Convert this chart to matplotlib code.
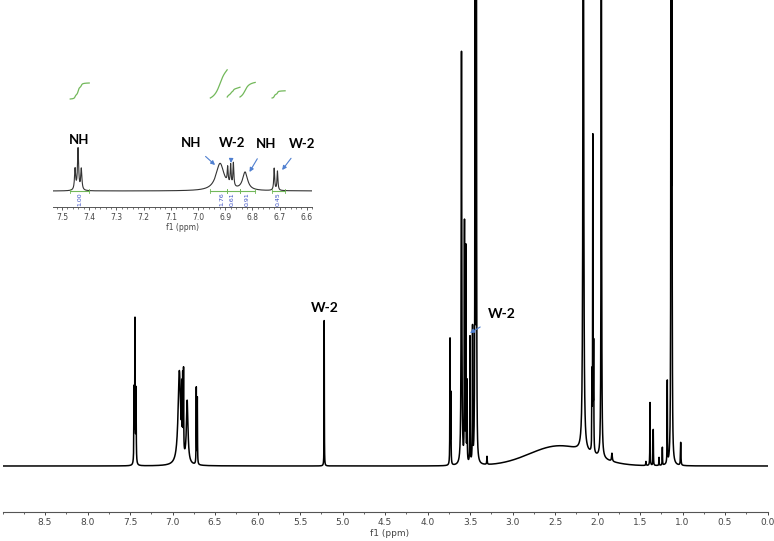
import numpy as np
import matplotlib
matplotlib.use("Agg")
import matplotlib.pyplot as plt
from matplotlib.ticker import MultipleLocator, FormatStrFormatter, FixedLocator

# peak table: shift (ppm), height, half width (ppm)
peak_ppm = [7.452, 7.441, 7.429, 6.919, 6.891, 6.880, 6.870, 6.827, 6.720, 6.708,
            5.215, 3.735, 3.725, 3.600, 3.565, 3.550, 3.535, 3.500, 3.470, 3.440,
            3.425, 3.300, 2.167, 2.065, 2.055, 2.045, 1.955, 1.830, 1.430, 1.382,
            1.344, 1.276, 1.237, 1.179, 1.135, 1.125, 1.021]
peak_height = [73, 143, 73, 94, 55, 71, 81, 62, 76, 66,
               148, 126, 70, 413, 239, 213, 80, 126, 133, 700,
               700, 8, 700, 73, 316, 103, 700, 8, 4, 63,
               36, 8, 18, 83, 700, 700, 23]
peak_hwhm = [0.0025, 0.0025, 0.0025, 0.018, 0.002, 0.002, 0.002, 0.011, 0.002, 0.002,
             0.0015, 0.002, 0.002, 0.004, 0.002, 0.002, 0.002, 0.002, 0.002, 0.0025,
             0.0025, 0.003, 0.005, 0.002, 0.002, 0.002, 0.003, 0.005, 0.003, 0.002,
             0.002, 0.002, 0.002, 0.002, 0.0025, 0.0025, 0.003]

# broad water / exchange hump
hump_ppm, hump_height, hump_sigma = 2.45, 20, 0.35

# inset integrals: region (from, to) and value
int_from = [7.47, 6.955, 6.893, 6.846, 6.728]
int_to = [7.40, 6.893, 6.846, 6.790, 6.680]
int_value = [1.00, 1.76, 0.61, 0.91, 0.45]

inset_scale = 0.29


def spectrum(x):
    y = hump_height * np.exp(-0.5 * ((x - hump_ppm) / hump_sigma) ** 2)
    for p, h, w in zip(peak_ppm, peak_height, peak_hwhm):
        y = y + h / (1 + ((x - p) / w) ** 2)
    return y


W, H = 774, 541
fig = plt.figure(figsize=(W / 100, H / 100), dpi=100)

blue = "#4f7fd0"
tick_grey = "#444444"

# ---- main spectrum
ax = fig.add_axes([2.5 / W, (H - 512) / H, 765 / W, 512 / H])
x = np.arange(0, 9.0002, 0.0004)
ax.plot(x, spectrum(x), color="black", lw=1.1)
ax.set_xlim(9.0, 0.0)
ax.set_ylim(-46, 466)
for s in ["left", "right", "top"]:
    ax.spines[s].set_visible(False)
ax.spines["bottom"].set_color("#555555")
ax.spines["bottom"].set_linewidth(0.8)
ax.set_yticks([])
ax.xaxis.set_major_locator(FixedLocator(np.arange(0, 8.6, 0.5)))
ax.xaxis.set_minor_locator(MultipleLocator(0.25))
ax.xaxis.set_major_formatter(FormatStrFormatter("%.1f"))
ax.tick_params(axis="x", which="major", length=2.5, width=0.7, pad=2,
               labelsize=6.5, colors=tick_grey)
ax.tick_params(axis="x", which="minor", length=1.5, width=0.6, colors=tick_grey)
fig.text(390 / W, 1 - 533 / H, "f1 (ppm)", fontsize=6.5, color=tick_grey,
         ha="center", va="center")

lab = dict(fontsize=10, fontweight="bold", family=["Lato", "DejaVu Sans"],
           ha="center", va="center")
ax.text(5.206, 158, "W-2", **lab)
ax.annotate("W-2", xy=(3.50, 133), xytext=(3.12, 152),
            arrowprops=dict(arrowstyle="-|>", color=blue, lw=0.8,
                            mutation_scale=6, shrinkA=6, shrinkB=0), **lab)

# ---- inset
ins = fig.add_axes([52.5 / W, (H - 207) / H, 259.8 / W, 147 / H])
xi = np.arange(6.55, 7.56, 0.0002)
yi = spectrum(xi) * inset_scale
ins.plot(xi, yi, color="#333333", lw=0.8)
ins.set_xlim(7.535, 6.58)
ins.set_ylim(-16, 131)
ins.patch.set_alpha(0)
for s in ["left", "right", "top"]:
    ins.spines[s].set_visible(False)
ins.spines["bottom"].set_color("#555555")
ins.spines["bottom"].set_linewidth(0.7)
ins.set_yticks([])
ins.xaxis.set_major_locator(MultipleLocator(0.1))
ins.xaxis.set_minor_locator(MultipleLocator(0.02))
ins.xaxis.set_major_formatter(FormatStrFormatter("%.1f"))
ins.tick_params(axis="x", which="major", length=2.5, width=0.6, pad=1.5,
                labelsize=5.5, colors=tick_grey)
ins.tick_params(axis="x", which="minor", length=1.3, width=0.5, colors=tick_grey)
ins.set_xlabel("f1 (ppm)", fontsize=5.5, color=tick_grey, labelpad=1)

green = "#72b85a"
starts = [92, 93, 94, 94, 93]
for a, b, v, s0 in zip(int_from, int_to, int_value, starts):
    m = (xi <= a) & (xi >= b)
    xs = xi[m][::-1]
    ys = yi[m][::-1]
    cum = np.concatenate([[0], np.cumsum((ys[1:] + ys[:-1]) / 2)])
    cum = cum / cum[-1] * v * 16
    ins.plot(xs, s0 + cum, color=green, lw=0.9)
    ins.plot([a, b], [0, 0], color=green, lw=0.8)
    ins.plot([a, a], [-2, 2], color=green, lw=0.6)
    ins.plot([b, b], [-2, 2], color=green, lw=0.6)

label_pos = [7.435, 6.912, 6.873, 6.818, 6.704]
for p, v in zip(label_pos, int_value):
    ins.text(p, -8, f"{v:.2f}", rotation=90, fontsize=4.5, color="#3b4fc4",
             ha="center", va="center")

ilab = dict(fontsize=9.5, fontweight="bold", family=["Lato", "DejaVu Sans"],
            ha="center", va="center")
arr = dict(arrowstyle="-|>", color=blue, lw=0.8, mutation_scale=6,
           shrinkA=5, shrinkB=0)
ins.text(7.436, 51, "NH", **ilab)
ins.annotate("NH", xy=(6.9375, 26), xytext=(7.027, 48), arrowprops=arr, **ilab)
ins.annotate("W-2", xy=(6.879, 28), xytext=(6.876, 48), arrowprops=arr, **ilab)
ins.annotate("NH", xy=(6.811, 19), xytext=(6.75, 47), arrowprops=arr, **ilab)
ins.annotate("W-2", xy=(6.691, 21), xytext=(6.618, 47), arrowprops=arr, **ilab)

fig.savefig("out.png", dpi=100)
